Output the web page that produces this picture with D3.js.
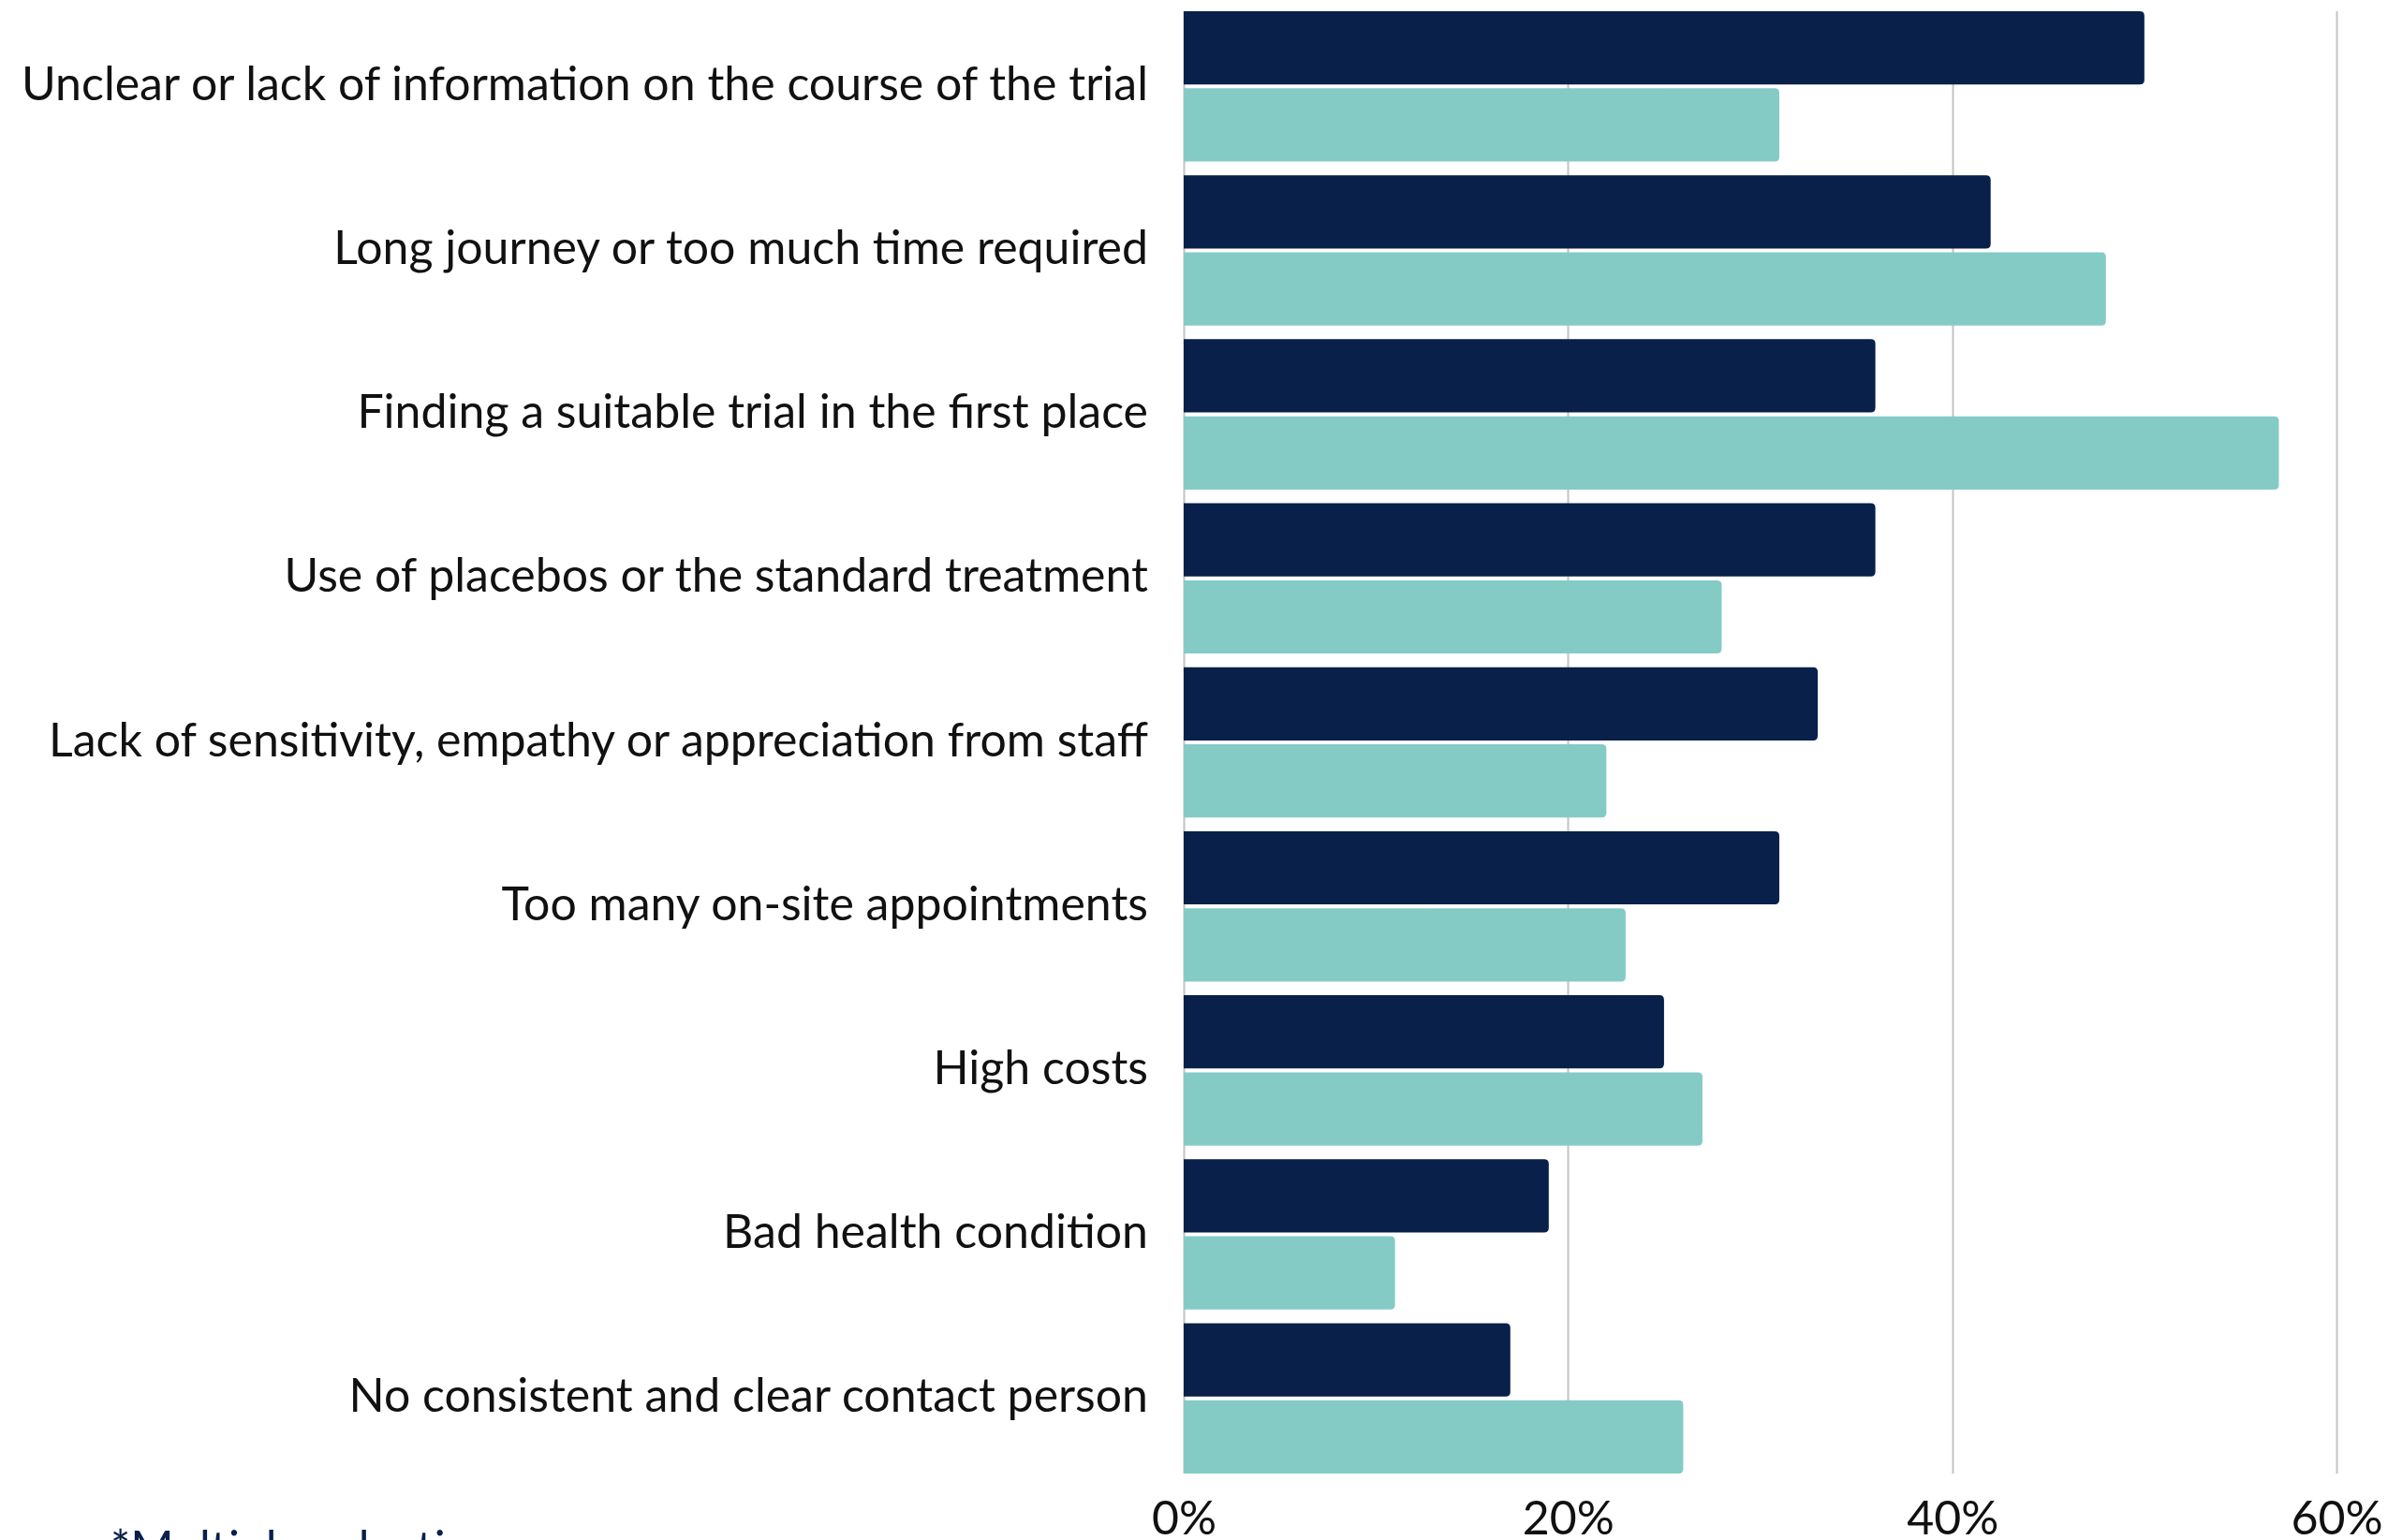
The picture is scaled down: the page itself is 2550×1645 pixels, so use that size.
<!DOCTYPE html>
<html>
<head>
<meta charset="utf-8">
<script src="https://cdn.jsdelivr.net/npm/d3@7"></script>
<style>
  html, body { margin: 0; padding: 0; background: #ffffff; }
  svg { display: block; }
  text { font-family: Lato, "Open Sans", sans-serif; }
</style>
</head>
<body>
<svg id="chart" width="2550" height="1645"></svg>
<script>
// Reasons against taking part in a clinical trial (multiple selection)
const categories = [
  "Unclear or lack of information on the course of the trial",
  "Long journey or too much time required",
  "Finding a suitable trial in the first place",
  "Use of placebos or the standard treatment",
  "Lack of sensitivity, empathy or appreciation from staff",
  "Too many on-site appointments",
  "High costs",
  "Bad health condition",
  "No consistent and clear contact person"
];
const seriesNames = ["group1", "group2"];
const group1Values = [50, 42, 36, 36, 33, 31, 25, 19, 17];
const group2Values = [31, 48, 57, 28, 22, 23, 27, 11, 26];
const tickValues = [0, 20, 40, 60];
const footnote = "*Multiple selection";

const colors = { group1: "#08204a", group2: "#84cbc6" };

const svg = d3.select("#chart");
const margin = { left: 1264, right: 2495, top: 12, bottom: 1574 };

const x = d3.scaleLinear().domain([0, 60]).range([margin.left, margin.right]);

const y = d3.scaleBand()
  .domain(categories)
  .range([margin.top, margin.bottom])
  .paddingInner(0.0833)
  .paddingOuter(0);

const ySub = d3.scaleBand()
  .domain(seriesNames)
  .range([0, y.bandwidth()])
  .paddingInner(0.05);

// vertical gridlines
svg.append("g")
  .selectAll("line")
  .data(tickValues)
  .join("line")
  .attr("x1", d => Math.round(x(d)) + 0.5)
  .attr("x2", d => Math.round(x(d)) + 0.5)
  .attr("y1", margin.top)
  .attr("y2", margin.bottom)
  .attr("stroke", "#c3c3c3")
  .attr("stroke-width", 2);

// bar with rounded right end only
function barPath(x0, x1, y0, h, r) {
  r = Math.min(r, (x1 - x0), h / 2);
  return `M${x0},${y0}H${x1 - r}Q${x1},${y0} ${x1},${y0 + r}` +
         `V${y0 + h - r}Q${x1},${y0 + h} ${x1 - r},${y0 + h}H${x0}Z`;
}

const rows = categories.map((c, i) => ({
  category: c,
  values: [
    { key: "group1", value: group1Values[i] },
    { key: "group2", value: group2Values[i] }
  ]
}));

const groups = svg.append("g")
  .selectAll("g")
  .data(rows)
  .join("g")
  .attr("transform", d => `translate(0,${y(d.category)})`);

groups.selectAll("path")
  .data(d => d.values)
  .join("path")
  .attr("d", d => barPath(x(0), x(d.value), ySub(d.key), ySub.bandwidth(), 5))
  .attr("fill", d => colors[d.key]);

// category labels
groups.append("text")
  .attr("x", x(0) - 38)
  .attr("y", y.bandwidth() / 2 + 2)
  .attr("text-anchor", "end")
  .attr("dominant-baseline", "middle")
  .attr("font-size", 50)
  .attr("fill", "#111111")
  .text(d => d.category);

// x axis tick labels
const xAxis = d3.axisBottom(x)
  .tickValues(tickValues)
  .tickFormat(d => d + "%")
  .tickSize(0)
  .tickPadding(0);

const axisG = svg.append("g")
  .attr("transform", `translate(0,${margin.bottom})`)
  .call(xAxis);
axisG.select(".domain").remove();
axisG.selectAll("text")
  .attr("y", 65)
  .attr("dy", 0)
  .attr("font-size", 50)
  .attr("font-family", "Lato, 'Open Sans', sans-serif")
  .attr("fill", "#111111");

// footnote
svg.append("text")
  .attr("x", 118)
  .attr("y", 1671)
  .attr("font-size", 50)
  .attr("fill", "#08204a")
  .text(footnote);
</script>
</body>
</html>
